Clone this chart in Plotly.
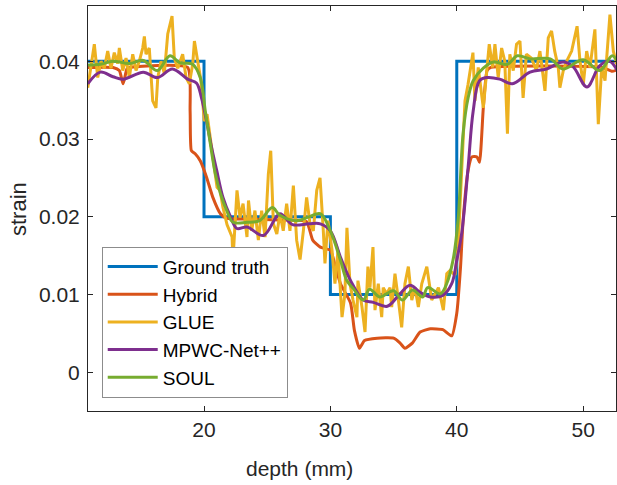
import plotly.graph_objects as go

# Ground truth (step profile)
gt_x = [10.8, 20, 20, 30, 30, 40, 40, 52.7]
gt_y = [0.04, 0.04, 0.02, 0.02, 0.01, 0.01, 0.04, 0.04]

# Hybrid
hy_x = [10.8, 12.8, 13.3, 13.6, 13.9, 14.1, 18.7, 18.9, 19.0, 19.3, 19.7, 20.2, 20.7, 21.3, 21.8,
        23.4, 26.0, 28.1, 28.6, 29.2, 30.0, 30.4, 30.8, 31.6, 31.9, 32.3, 32.7, 33.7, 35.0, 35.5,
        35.9, 36.5, 37.1, 37.9, 38.9, 39.6, 40.0, 40.3, 40.5, 40.9, 41.2, 41.6, 41.8, 42.1, 42.4,
        42.7, 51.5, 52.3, 52.7]
hy_y = [0.0392, 0.0392, 0.0388, 0.0371, 0.0390, 0.0392, 0.0392, 0.0336, 0.0285, 0.0281, 0.0272,
        0.0251, 0.0225, 0.0204, 0.0198, 0.0197, 0.0196, 0.0194, 0.0170, 0.0161, 0.0157, 0.0136,
        0.0114, 0.0089, 0.0054, 0.0031, 0.0041, 0.0044, 0.0044, 0.0038, 0.0031, 0.0038, 0.0052,
        0.0056, 0.0055, 0.0047, 0.0076, 0.0136, 0.0195, 0.0260, 0.0277, 0.0277, 0.0270, 0.0340,
        0.0388, 0.0392, 0.0392, 0.0387, 0.0389]

# GLUE
gl_x = [10.80, 11.32, 11.59, 11.85, 12.11, 12.38, 12.64, 12.90, 13.17, 13.30, 13.57, 13.83, 14.09,
        14.36, 14.62, 14.88, 15.15, 15.28, 15.41, 15.67, 15.94, 16.20, 16.34, 16.60, 16.86, 17.13,
        17.47, 17.65, 17.92, 18.31, 18.58, 18.84, 19.11, 19.24, 19.50, 19.76, 20.02,
        20.24, 20.71, 21.03, 21.27, 21.50, 21.82, 22.06, 22.22, 22.29, 22.61, 22.85, 23.09, 23.40,
        23.52, 23.77, 24.03, 24.30, 24.56, 24.83, 25.09, 25.28, 25.49, 25.76, 26.01, 26.27, 26.54,
        26.80, 27.07, 27.33, 27.60, 27.86, 28.12, 28.39, 28.65, 28.92, 29.18, 29.44, 29.57, 29.81,
        30.13, 30.36, 30.60, 30.92, 31.15, 31.31, 31.55, 31.79, 32.10, 32.18, 32.50, 32.74, 32.97,
        33.13, 33.37, 33.53, 33.79, 34.06, 34.18, 34.45, 34.72, 34.85, 35.11, 35.38, 35.64, 35.90,
        36.17, 36.44, 36.70, 36.96, 37.23, 37.63, 38.02, 38.29, 38.55, 38.94, 39.21, 39.46, 39.86,
        40.10, 40.65, 40.89, 41.28, 41.44, 41.70, 42.10, 42.37, 42.57, 42.84, 43.02, 43.28, 43.55,
        43.80, 44.01, 44.20, 44.47, 44.73, 45.00, 45.25, 45.51, 45.91, 46.30, 46.58, 46.98, 47.24,
        47.50, 47.75, 48.03, 48.16, 48.43, 48.69, 49.09, 49.52, 49.75, 50.01, 50.28, 50.54, 50.93,
        51.20, 51.47, 51.73, 52.12, 52.39, 52.66]
gl_y = [0.0366, 0.0422, 0.0379, 0.0400, 0.0391, 0.0413, 0.0391, 0.0411, 0.0397, 0.0417, 0.0388,
        0.0404, 0.0379, 0.0409, 0.0388, 0.0400, 0.0417, 0.0432, 0.0409, 0.0417, 0.0349, 0.0340,
        0.0379, 0.0400, 0.0384, 0.0435, 0.0458, 0.0404, 0.0391, 0.0409, 0.0379, 0.0371, 0.0397,
        0.0426, 0.0400, 0.0375, 0.0323,
        0.0332, 0.0276, 0.0238, 0.0234, 0.0212, 0.0190, 0.0180, 0.0174, 0.0144, 0.0234, 0.0199,
        0.0217, 0.0174, 0.0221, 0.0182, 0.0208, 0.0170, 0.0208, 0.0174, 0.0255, 0.0285, 0.0191,
        0.0178, 0.0204, 0.0182, 0.0217, 0.0182, 0.0240, 0.0170, 0.0145, 0.0182, 0.0225, 0.0191,
        0.0182, 0.0234, 0.0250, 0.0182, 0.0140, 0.0195,
        0.0157, 0.0114, 0.0157, 0.0071, 0.0101, 0.0186, 0.0114, 0.0093, 0.0071, 0.0118, 0.0084,
        0.0052, 0.0136, 0.0109, 0.0161, 0.0080, 0.0114, 0.0071, 0.0109, 0.0101, 0.0109, 0.0084,
        0.0127, 0.0093, 0.0058, 0.0114, 0.0136, 0.0093, 0.0109, 0.0084, 0.0114, 0.0136, 0.0093,
        0.0101, 0.0109, 0.0080, 0.0127, 0.0131, 0.0125,
        0.0160, 0.0349, 0.0370, 0.0411, 0.0349, 0.0392, 0.0340, 0.0392, 0.0422, 0.0392, 0.0422,
        0.0379, 0.0417, 0.0400, 0.0307, 0.0409, 0.0388, 0.0422, 0.0426, 0.0353, 0.0409, 0.0404,
        0.0388, 0.0413, 0.0362, 0.0430, 0.0439, 0.0413, 0.0392, 0.0366, 0.0388, 0.0400, 0.0413,
        0.0445, 0.0400, 0.0370, 0.0413, 0.0392, 0.0441, 0.0319, 0.0392, 0.0375, 0.0460, 0.0413,
        0.0396]

# MPWC-Net++
mp_x = [10.8, 11.8, 12.8, 13.6, 15.2, 16.3, 17.5, 18.7, 19.4, 19.8, 20.2, 20.6, 21.0, 21.5, 22.1,
        22.6, 23.4, 24.7, 26.0, 27.0, 28.3, 29.2, 30.0, 30.8, 31.6, 32.6, 33.4, 34.5, 35.5, 36.3,
        37.1, 37.9, 38.9, 39.6, 40.0, 40.4, 40.9, 41.3, 41.8, 42.4, 43.4, 44.4, 45.8, 47.1, 48.4,
        49.2, 50.3, 51.3, 52.1, 52.7]
mp_y = [0.0371, 0.0386, 0.0380, 0.0377, 0.0386, 0.0379, 0.0390, 0.0377, 0.0372, 0.0353, 0.0323,
        0.0289, 0.0260, 0.0225, 0.0200, 0.0185, 0.0187, 0.0176, 0.0204, 0.0190, 0.0191, 0.0191,
        0.0182, 0.0148, 0.0118, 0.0093, 0.0090, 0.0085, 0.0101, 0.0112, 0.0103, 0.0097, 0.0099,
        0.0114, 0.0144, 0.0180, 0.0264, 0.0336, 0.0375, 0.0379, 0.0377, 0.0371, 0.0386, 0.0390,
        0.0399, 0.0393, 0.0367, 0.0394, 0.0400, 0.0388]

# SOUL
so_x = [10.8, 11.8, 12.8, 14.1, 15.2, 16.3, 17.3, 18.1, 19.1, 19.7, 20.1, 20.5, 20.9, 21.3, 21.8,
        22.3, 23.4, 24.4, 25.4, 26.0, 27.4, 28.3, 29.2, 30.0, 30.8, 31.3, 31.8, 32.6, 33.1, 33.9,
        35.0, 35.7, 36.5, 37.3, 37.7, 38.7, 39.2, 39.7, 40.1, 40.5, 40.9, 41.3, 42.1, 42.9, 44.0,
        44.8, 45.8, 47.4, 48.4, 50.0, 51.3, 52.3, 52.7]
so_y = [0.0395, 0.0396, 0.0400, 0.0397, 0.0401, 0.0388, 0.0407, 0.0398, 0.0396, 0.0379, 0.0336,
        0.0294, 0.0255, 0.0230, 0.0208, 0.0193, 0.0193, 0.0195, 0.0212, 0.0202, 0.0195, 0.0200,
        0.0204, 0.0182, 0.0144, 0.0118, 0.0108, 0.0093, 0.0107, 0.0097, 0.0105, 0.0093, 0.0106,
        0.0097, 0.0109, 0.0101, 0.0114, 0.0144, 0.0195, 0.0307, 0.0353, 0.0375, 0.0391, 0.0399,
        0.0396, 0.0407, 0.0403, 0.0403, 0.0390, 0.0402, 0.0388, 0.0407, 0.0400]

x_ticks = [20, 30, 40, 50]
y_ticks = [0, 0.01, 0.02, 0.03, 0.04]
y_ticktext = ["0", "0.01", "0.02", "0.03", "0.04"]

FONT = "Liberation Sans, Arial, Helvetica, sans-serif"
AX = "#262626"

fig = go.Figure()
fig.add_trace(go.Scatter(x=gt_x, y=gt_y, mode="lines", name="Ground truth",
                         line=dict(color="#0072BD", width=3)))
fig.add_trace(go.Scatter(x=hy_x, y=hy_y, mode="lines", name="Hybrid",
                         line=dict(color="#D95319", width=3, shape="spline", smoothing=0.5)))
fig.add_trace(go.Scatter(x=gl_x, y=gl_y, mode="lines", name="GLUE",
                         line=dict(color="#EDB120", width=3)))
fig.add_trace(go.Scatter(x=mp_x, y=mp_y, mode="lines", name="MPWC-Net++",
                         line=dict(color="#7E2F8E", width=3, shape="spline", smoothing=1.0)))
fig.add_trace(go.Scatter(x=so_x, y=so_y, mode="lines", name="SOUL",
                         line=dict(color="#77AC30", width=3, shape="spline", smoothing=1.0)))

fig.update_layout(
    width=617, height=485,
    margin=dict(l=88, r=1, t=6, b=74, autoexpand=False),
    paper_bgcolor="white", plot_bgcolor="white",
    font=dict(family=FONT, color=AX, size=21),
    showlegend=True,
    legend=dict(x=0.026, y=0.033, xanchor="left", yanchor="bottom",
                bgcolor="white", bordercolor="#8c8c8c", borderwidth=1,
                font=dict(family=FONT, size=19, color="black"),
                tracegroupgap=0, itemwidth=50),
    annotations=[
        dict(text="depth (mm)", xref="paper", yref="paper", x=0.4015, y=-0.143,
             xanchor="center", yanchor="middle", showarrow=False,
             font=dict(family=FONT, size=21, color=AX)),
        dict(text="strain", xref="paper", yref="paper", x=-0.1316, y=0.4975,
             xanchor="center", yanchor="middle", showarrow=False, textangle=-90,
             font=dict(family=FONT, size=22, color=AX)),
    ],
)
fig.update_xaxes(range=[10.82, 52.6], tickvals=x_ticks, ticks="inside", ticklen=5,
                 tickcolor=AX, showline=True, linecolor=AX, linewidth=1, mirror="ticks",
                 showgrid=False, zeroline=False, automargin=False,
                 tickfont=dict(size=21, color=AX))
fig.update_yaxes(range=[-0.00496, 0.0471], tickvals=y_ticks, ticktext=y_ticktext,
                 ticks="inside", ticklen=5, tickcolor=AX, showline=True, linecolor=AX,
                 linewidth=1, mirror="ticks", showgrid=False, zeroline=False, automargin=False,
                 ticklabelstandoff=3,
                 tickfont=dict(size=21, color=AX))

fig.write_html("out.html", config={"displayModeBar": False},
               post_script="document.body.style.margin='0';")
